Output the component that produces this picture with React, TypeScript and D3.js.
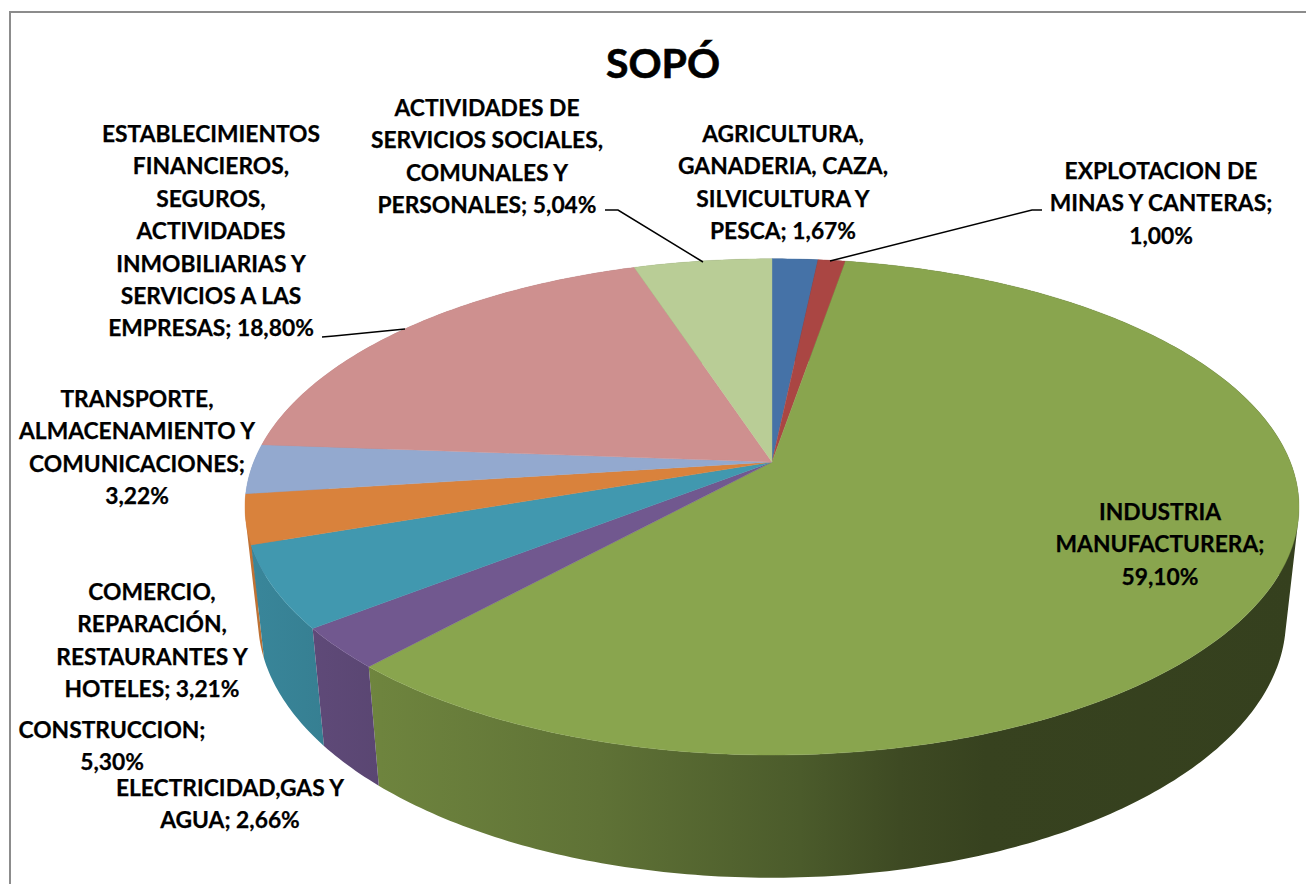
import React from "react";
import * as d3 from "d3";

const categories = [
  "AGRICULTURA, GANADERIA, CAZA, SILVICULTURA Y PESCA",
  "EXPLOTACION DE MINAS Y CANTERAS",
  "INDUSTRIA MANUFACTURERA",
  "ELECTRICIDAD,GAS Y AGUA",
  "CONSTRUCCION",
  "COMERCIO, REPARACIÓN, RESTAURANTES Y HOTELES",
  "TRANSPORTE, ALMACENAMIENTO Y COMUNICACIONES",
  "ESTABLECIMIENTOS FINANCIEROS, SEGUROS, ACTIVIDADES INMOBILIARIAS Y SERVICIOS A LAS EMPRESAS",
  "ACTIVIDADES DE SERVICIOS SOCIALES, COMUNALES Y PERSONALES",
];
const values = [1.67, 1.0, 59.1, 2.66, 5.3, 3.21, 3.22, 18.8, 5.04];
const colors = ["#4572A7", "#AA4643", "#89A54E", "#71588F", "#4198AF", "#D9823C", "#93A9CF", "#CE908F", "#B9CD96"];
const title = "SOPÓ";
const labelLines = [
  ["AGRICULTURA,", "GANADERIA, CAZA,", "SILVICULTURA Y", "PESCA; 1,67%"],
  ["EXPLOTACION DE", "MINAS Y CANTERAS;", "1,00%"],
  ["INDUSTRIA", "MANUFACTURERA;", "59,10%"],
  ["ELECTRICIDAD,GAS Y", "AGUA; 2,66%"],
  ["CONSTRUCCION;", "5,30%"],
  ["COMERCIO,", "REPARACIÓN,", "RESTAURANTES Y", "HOTELES; 3,21%"],
  ["TRANSPORTE,", "ALMACENAMIENTO Y", "COMUNICACIONES;", "3,22%"],
  ["ESTABLECIMIENTOS", "FINANCIEROS,", "SEGUROS,", "ACTIVIDADES", "INMOBILIARIAS Y", "SERVICIOS A LAS", "EMPRESAS; 18,80%"],
  ["ACTIVIDADES DE", "SERVICIOS SOCIALES,", "COMUNALES Y", "PERSONALES; 5,04%"],
];

// layout, kept apart from the data: label centre x and first-line y
const labelX = [783, 1161, 1160, 230, 112, 152, 137, 211, 487];
const labelY = [133, 170, 511, 787, 729, 591, 398, 133, 107];
const LINE_H = 32.4;
const leaders: [number, number][][] = [
  [[605, 210], [618, 210], [703, 262]],
  [[1042, 210], [1032, 210], [830, 261]],
  [[322, 337], [334, 336], [405, 329]],
];

// perspective projection of the pie disc
const CX = 772;
const K = 0.181;
const topDisc = { a: 518.3, b: 240, y0: 462 };
const botDisc = { a: 505.5, b: 250, y0: 572.5 };
type Disc = typeof topDisc;
const project = (d: Disc, ang: number): [number, number] => {
  const u = Math.sin(ang);
  const v = -Math.cos(ang);
  const w = 1 - K * v;
  return [CX + (d.a * u) / w, d.y0 + (d.b * v) / w];
};

const pie = d3.pie<number>().sort(null).value((v) => v).startAngle(0).endAngle(2 * Math.PI);
const arcs = pie(values);
const line = d3.line();
const samples = (a0: number, a1: number) => {
  const n = Math.max(2, Math.ceil((a1 - a0) / (Math.PI / 240)));
  return d3.range(n + 1).map((i) => a0 + ((a1 - a0) * i) / n);
};

// wall of one slice: the union of its small quads, so the fold at the silhouette is filled
const wallPath = (a0: number, a1: number) => {
  const s = samples(a0, a1);
  return s
    .slice(1)
    .map((t, i) => {
      const quad = [project(topDisc, s[i]), project(topDisc, t), project(botDisc, t), project(botDisc, s[i])];
      const hull = d3.polygonHull(quad) ?? quad;
      return line(hull as [number, number][]) + "Z";
    })
    .join("");
};

const depthOrder = d3.range(values.length).sort(
  (i, j) =>
    -Math.cos((arcs[i].startAngle + arcs[i].endAngle) / 2) -
    -Math.cos((arcs[j].startAngle + arcs[j].endAngle) / 2)
);

const shadeStops: [number, number][] = [
  [250, 0.88], [380, 0.8], [600, 0.69], [800, 0.55], [900, 0.45], [985, 0.4], [1300, 0.39],
];
const GX0 = 250;
const GX1 = 1300;

const shade = (c: string, f: number) => {
  const r = d3.rgb(c);
  return d3.rgb(r.r * f, r.g * f, r.b * f).formatHex();
};

const FONT = "Lato, Carlito, 'Open Sans', sans-serif";

export default function App() {
  return (
    <svg
      width={1306}
      height={884}
      viewBox="0 0 1306 884"
      style={{ position: "fixed", left: 0, top: 0, display: "block", background: "#fff" }}
    >
      <defs>
        {colors.map((c, i) => (
          <linearGradient key={i} id={`wall${i}`} gradientUnits="userSpaceOnUse" x1={GX0} x2={GX1} y1={0} y2={0}>
            {shadeStops.map(([x, f], j) => (
              <stop key={j} offset={(x - GX0) / (GX1 - GX0)} stopColor={shade(c, f)} />
            ))}
          </linearGradient>
        ))}
      </defs>
      <rect x={0} y={0} width={1306} height={884} fill="#fff" />
      <path d="M10 884V12H1306" fill="none" stroke="#8c8c8c" strokeWidth={2} />

      {depthOrder.map((i) => (
        <path key={i} d={wallPath(arcs[i].startAngle, arcs[i].endAngle)} fill={`url(#wall${i})`} fillRule="nonzero" />
      ))}

      {arcs.map((a, i) => {
        const s = samples(a.startAngle, a.endAngle);
        const pts: [number, number][] = [[CX, topDisc.y0], ...s.map((t) => project(topDisc, t))];
        return <path key={i} d={line(pts) + "Z"} fill={colors[i]} stroke={colors[i]} strokeWidth={0.4} />;
      })}

      {leaders.map((l, i) => (
        <path key={i} d={line(l) ?? ""} fill="none" stroke="#000" strokeWidth={1.5} />
      ))}

      <text x={663} y={62} textAnchor="middle" dominantBaseline="central" fontFamily={FONT} fontWeight={700} fontSize={41} fill="#000" stroke="#000" strokeWidth={0.6}>
        {title}
      </text>

      {labelLines.map((lines, i) => (
        <text key={categories[i]} textAnchor="middle" fontFamily={FONT} fontWeight={700} fontSize={22.8} fill="#000" stroke="#000" strokeWidth={0.25}>
          {lines.map((t, j) => (
            <tspan key={j} x={labelX[i]} y={labelY[i] + j * LINE_H} dominantBaseline="central">
              {t}
            </tspan>
          ))}
        </text>
      ))}
    </svg>
  );
}
